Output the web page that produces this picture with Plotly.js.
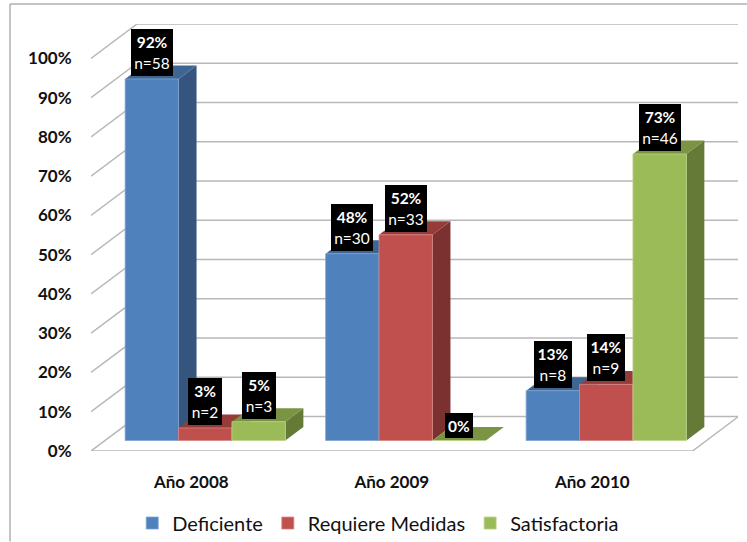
<!DOCTYPE html>
<html><head><meta charset="utf-8">
<script src="https://cdn.plot.ly/plotly-3.0.1.min.js"></script>
<style>html,body{margin:0;padding:0;background:#fff}</style></head>
<body><div id="chart" style="width:747px;height:542px"></div>
<script>
const categories = ["Año 2008", "Año 2009", "Año 2010"];
const deficiente = [92.1, 47.6, 12.7];
const requiereMedidas = [3.2, 52.4, 14.3];
const satisfactoria = [4.8, 0, 73.0];
const nDeficiente = [58, 30, 8];
const nRequiere = [2, 33, 9];
const nSatisfactoria = [3, 0, 46];
const pctDeficiente = ["92%", "48%", "13%"];
const pctRequiere = ["3%", "52%", "14%"];
const pctSatisfactoria = ["5%", "0%", "73%"];
const yTicks = [0,10,20,30,40,50,60,70,80,90,100];

const PW = 647, PH = 427.5, UX = 200.5, UY = 3.93;
const FLOOR_DX = 46/UX, FLOOR_DY = 34.5/UY;
const BAR_DX = 14/UX, BAR_DY = 10.5/UY, DEPTH_DX = 18/UX, DEPTH_DY = 13.5/UY;
const BAR_W = 53.4/UX;
const xRange = [-0.5, -0.5 + PW/UX], yRange = [0, PH/UY];
const FONT = "Lato, Carlito, sans-serif";

const series = [
 {name:"Deficiente", v:deficiente, n:nDeficiente, p:pctDeficiente, front:"#4F81BD", side:"#35557E", top:"#3E6695", edge:"#7FA3D0"},
 {name:"Requiere Medidas", v:requiereMedidas, n:nRequiere, p:pctRequiere, front:"#C0504D", side:"#7A312F", top:"#953C39", edge:"#D48583"},
 {name:"Satisfactoria", v:satisfactoria, n:nSatisfactoria, p:pctSatisfactoria, front:"#9BBB59", side:"#657A36", top:"#7A9443", edge:"#BBD288"}
];

const gx=[], gy=[];
yTicks.forEach(t=>{
  gx.push(-0.5, -0.5+FLOOR_DX, xRange[1], null);
  gy.push(t, t+FLOOR_DY, t+FLOOR_DY, null);
});
gx.push(-0.5, 2.5, 2.5+FLOOR_DX); gy.push(0, 0, FLOOR_DY);
const traces = [{type:"scatter", mode:"lines", x:gx, y:gy, hoverinfo:"skip", showlegend:false, cliponaxis:false,
  connectgaps:false, line:{color:"#B8B8B8", width:1.5}}];

series.forEach((s,k)=>{
  categories.forEach((c,i)=>{
    const x0 = i + BAR_DX + (k-1.5)*BAR_W, x1 = x0 + BAR_W;
    const y0 = BAR_DY, y1 = BAR_DY + s.v[i];
    traces.push({type:"scatter", mode:"lines", fill:"toself", fillcolor:s.side, line:{width:0}, hoverinfo:"skip", showlegend:false, cliponaxis:false,
      x:[x1, x1+DEPTH_DX, x1+DEPTH_DX, x1, x1], y:[y0, y0+DEPTH_DY, y1+DEPTH_DY, y1, y0]});
    traces.push({type:"scatter", mode:"lines", fill:"toself", fillcolor:s.top, line:{width:0}, hoverinfo:"skip", showlegend:false, cliponaxis:false,
      x:[x0, x0+DEPTH_DX, x1+DEPTH_DX, x1, x0], y:[y1, y1+DEPTH_DY, y1+DEPTH_DY, y1, y1]});
  });
});

series.forEach(s=>{
  traces.push({type:"bar", name:s.name, xaxis:"x2", yaxis:"y2",
    x:categories.map((c,i)=>i+BAR_DX), y:s.v, base:categories.map(()=>BAR_DY),
    marker:{color:s.front, line:{color:s.edge, width:0.8}}, hoverinfo:"skip", cliponaxis:false});
});

const annotations=[];
series.forEach((s,k)=>categories.forEach((c,i)=>{
  const hasN = s.n[i] > 0;
  const label = hasN ? "<b>"+s.p[i]+"</b><br>n="+s.n[i] : "<b>"+s.p[i]+"</b>";
  const w = !hasN ? 28 : s.n[i] >= 10 ? 42 : s.p[i].length > 2 ? 38 : 34;
  annotations.push({xref:"x", yref:"y", x:i+BAR_DX+(k-1)*BAR_W, y:BAR_DY+s.v[i], text:label, showarrow:false,
    xanchor:"center", yanchor:"bottom", yshift:3, bgcolor:"#000", borderpad:0, borderwidth:0, width:w, height:hasN?47:25,
    font:{family:FONT, size:15.5, color:"#fff"}, align:"center", valign:"middle"});
}));

const layout = {
  width:747, height:542, autosize:false, paper_bgcolor:"#fff", plot_bgcolor:"rgba(0,0,0,0)",
  margin:{l:91, r:9, t:24, b:90.5, pad:0},
  barmode:"group", bargap:1-3*BAR_W, bargroupgap:0,
  xaxis:{range:xRange, tickmode:"array", tickvals:[0,1,2], ticktext:categories, showgrid:false, zeroline:false, showline:false,
    ticks:"outside", ticklen:16, tickcolor:"rgba(0,0,0,0)", tickfont:{family:FONT, size:17, color:"#111", weight:700}},
  yaxis:{range:yRange, tickmode:"array", tickvals:yTicks, ticktext:yTicks.map(t=>t+"%"), showgrid:false, zeroline:false, showline:false,
    ticks:"outside", ticklen:15, tickcolor:"rgba(0,0,0,0)", ticklabelshift:-1.5, tickfont:{family:FONT, size:17, color:"#111", weight:700}},
  xaxis2:{overlaying:"x", matches:"x", visible:false, range:xRange},
  yaxis2:{overlaying:"y", matches:"y", visible:false, range:yRange},
  legend:{orientation:"h", xref:"container", yref:"container", x:0.177, y:0.035, xanchor:"left", yanchor:"middle", bgcolor:"rgba(0,0,0,0)", font:{family:FONT, size:20, color:"#111"}, traceorder:"normal"},
  annotations:annotations,
  shapes:[
    {type:"line", xref:"paper", yref:"paper", x0:-81/PW, x1:1.02, y0:1+20/PH, y1:1+20/PH, line:{color:"#B0B0B0", width:1.5}},
    {type:"line", xref:"paper", yref:"paper", x0:-81/PW, x1:-81/PW, y0:1+20/PH, y1:-90.5/PH, line:{color:"#B0B0B0", width:1.5}}
  ]
};
Plotly.newPlot("chart", traces, layout, {displayModeBar:false, staticPlot:true});
</script></body></html>
